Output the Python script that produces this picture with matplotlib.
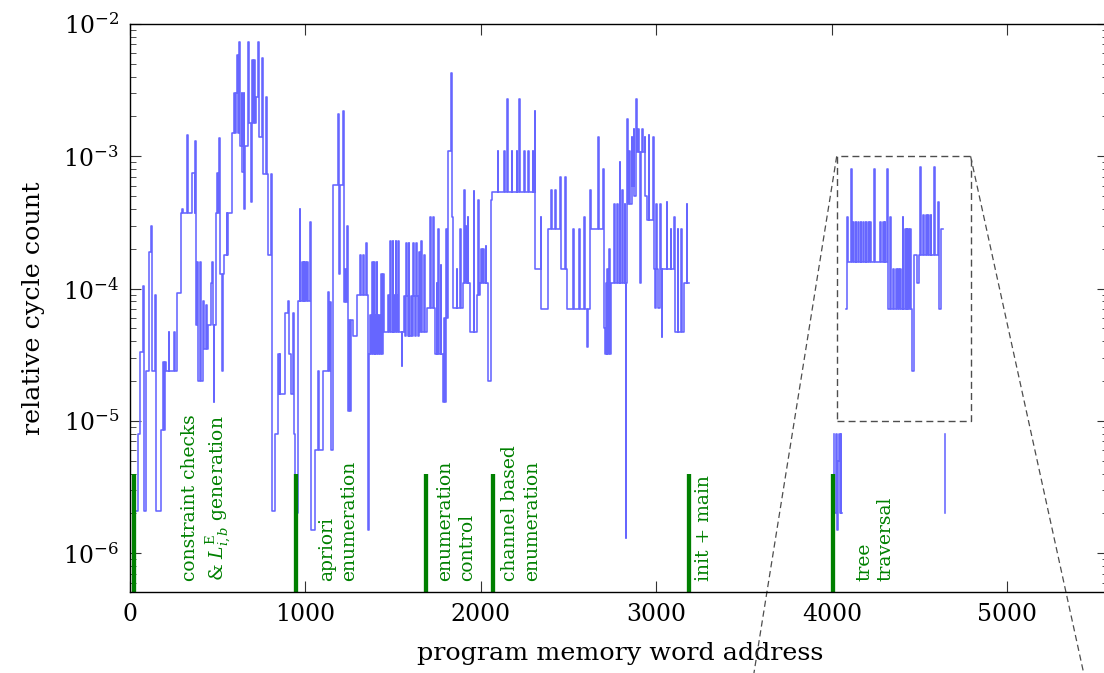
import numpy as np
import matplotlib
matplotlib.use("Agg")
import matplotlib.pyplot as plt
from matplotlib.patches import Rectangle

plt.rcParams['font.family'] = ['DejaVu Serif']
plt.rcParams['mathtext.fontset'] = 'dejavuserif'

# (word address, relative cycle count) step points
constraint_steps = [
    (36, 2.1e-6), (44, 8e-6), (58, 3.3e-5), (72, 1.05e-4), (78, 2.1e-6), (90, 2.4e-5),
    (110, 1.9e-4), (118, 3e-4), (124, 2.4e-5), (144, 9e-5), (150, 2.1e-6), (178, 8.6e-6),
    (186, 2.8e-5), (192, 8.6e-6), (198, 2.8e-5), (207, 2.4e-5), (220, 4.7e-5), (224, 2.4e-5),
    (252, 4.7e-5), (256, 2.4e-5), (270, 9.3e-5), (292, 3.7e-4), (298, 4e-4), (302, 3.7e-4),
    (325, 1.45e-3), (329, 3.7e-4), (355, 7.5e-4), (368, 3.7e-4), (372, 1.3e-3), (376, 5.3e-5),
    (384, 1.6e-4), (388, 2e-5), (400, 1.6e-4), (404, 2e-5), (416, 8e-5), (420, 3.5e-5),
    (432, 7.5e-5), (436, 3.5e-5), (444, 5.3e-5), (460, 1.1e-4), (466, 1.6e-4), (472, 5.3e-5),
    (476, 1.4e-5), (480, 5.3e-5), (490, 3.7e-4), (494, 7.5e-4), (500, 3.7e-4), (510, 1.37e-3),
    (514, 1.3e-4), (522, 2.4e-5), (530, 1.3e-4), (535, 1.8e-4), (550, 3.7e-4), (554, 1.8e-4),
    (558, 3.7e-4), (581, 1.5e-3), (592, 3e-3), (596, 1.5e-3), (604, 3e-3), (611, 5.8e-3),
    (616, 1.5e-3), (622, 7.3e-3), (626, 1.2e-3), (636, 3e-3), (640, 7.6e-4), (648, 3e-3),
    (652, 4e-4), (658, 1.2e-3), (672, 7.3e-3), (676, 1.8e-3), (688, 4.5e-4), (694, 5.3e-3),
    (700, 1.8e-3), (706, 5.3e-3), (712, 1.8e-3), (720, 2.8e-3), (729, 7.3e-3), (733, 1.4e-3),
    (755, 5.5e-3), (760, 7.3e-4), (777, 2.8e-3), (781, 7.3e-4), (784, 1.8e-4), (806, 7.3e-4),
    (810, 2.1e-6), (824, 8e-6), (843, 3.2e-5), (848, 1.6e-5), (853, 3.2e-5), (857, 1.6e-5),
    (881, 6.6e-5), (900, 8e-5), (906, 3.2e-5), (919, 1.6e-5), (929, 6.5e-5), (934, 8e-6),
    (938, 2e-6), (957, 8e-5), (967, 4e-4), (971, 8e-5), (980, 1.6e-4), (984, 8e-5),
    (990, 1.6e-4), (994, 8e-5), (1000, 1.6e-4), (1004, 8e-5), (1010, 1.6e-4), (1016, 8e-5),
    (1023, 3.2e-4), (1029, 1.5e-6), (1052, 6e-6), (1071, 2.4e-5), (1075, 6e-6),
]
apriori_steps = [
    (1100, 2.4e-5), (1128, 9.5e-5), (1134, 2.4e-5), (1140, 7.9e-5), (1144, 6e-6), (1155, 6.1e-4),
    (1187, 2.1e-3), (1192, 1.3e-4), (1198, 6.1e-4), (1212, 2.2e-3), (1218, 7.9e-5), (1224, 1.4e-4),
    (1230, 7.9e-5), (1238, 3e-4), (1242, 1.2e-5), (1248, 5.8e-5), (1254, 1.2e-5), (1262, 5.8e-5),
    (1270, 4.4e-5), (1292, 9e-5), (1310, 1.8e-4), (1314, 9e-5), (1328, 1.8e-4), (1332, 9e-5),
    (1345, 2.2e-4), (1350, 9e-5), (1356, 1.5e-6), (1362, 3.2e-5), (1370, 6.3e-5), (1374, 3.2e-5),
    (1378, 1.6e-4), (1382, 6.3e-5), (1386, 3.2e-5), (1390, 1.6e-4), (1394, 3.2e-5), (1398, 6.3e-5),
    (1402, 3.2e-5), (1406, 1.6e-4), (1410, 6.3e-5), (1414, 3.2e-5), (1420, 6.3e-5), (1424, 3.2e-5),
    (1430, 1.3e-4), (1434, 3.2e-5), (1443, 1.3e-4), (1447, 4.7e-5), (1470, 9e-5), (1474, 4.7e-5),
    (1482, 2.3e-4), (1486, 9e-5), (1490, 4.7e-5), (1496, 2.3e-4), (1500, 4.7e-5), (1506, 9e-5),
    (1510, 4.7e-5), (1514, 2.3e-4), (1518, 9e-5), (1524, 4.7e-5), (1530, 2.3e-4), (1534, 4.7e-5),
    (1548, 2.6e-5), (1551, 4.7e-5), (1560, 8.8e-5), (1566, 4.4e-5), (1572, 2.2e-4), (1576, 8.8e-5),
    (1582, 4.4e-5), (1588, 2.2e-4), (1592, 4.4e-5), (1600, 8.8e-5), (1606, 4.4e-5), (1612, 2.2e-4),
    (1616, 8.8e-5), (1622, 4.4e-5), (1630, 2.2e-4), (1634, 8.8e-5), (1640, 4.4e-5), (1646, 1.9e-4),
    (1650, 4.7e-5), (1660, 2.3e-4), (1664, 4.7e-5), (1676, 1.8e-4), (1680, 4.7e-5),
]
control_steps = [
    (1690, 7.2e-5), (1710, 3.5e-4), (1714, 7.2e-5), (1726, 3.5e-4), (1730, 7.2e-5), (1738, 3.2e-5),
    (1747, 1.1e-4), (1751, 3.2e-5), (1757, 2.8e-4), (1761, 3.2e-5), (1770, 1.5e-4), (1774, 3.2e-5),
    (1785, 1.4e-5), (1790, 6e-5), (1794, 1.4e-5), (1800, 2.8e-4), (1804, 6e-5), (1814, 1.1e-3),
    (1832, 4.3e-3), (1836, 3.5e-4), (1842, 7.2e-5), (1862, 1.4e-4), (1866, 7.2e-5), (1880, 2.8e-4),
    (1884, 7.2e-5), (1899, 1.1e-4), (1904, 5.6e-4), (1908, 1.1e-4), (1914, 3e-4), (1918, 1.1e-4),
    (1924, 3.5e-4), (1928, 1.1e-4), (1937, 4.7e-5), (1958, 5.5e-4), (1962, 4.7e-5), (1975, 9e-5),
    (1982, 4.7e-4), (1986, 9e-5), (1994, 1.1e-4), (2000, 2e-4), (2004, 1.1e-4), (2014, 2e-4),
    (2018, 1.1e-4), (2026, 2.1e-4), (2030, 1.1e-4), (2040, 2e-5), (2058, 4.7e-4),
]
channel_steps = [
    (2064, 5.4e-4), (2095, 1.1e-3), (2099, 5.4e-4), (2131, 1.1e-3), (2135, 5.4e-4), (2146, 2.7e-3),
    (2156, 5.4e-4), (2175, 1.1e-3), (2179, 5.4e-4), (2203, 1.1e-3), (2207, 5.4e-4), (2218, 2.7e-3),
    (2222, 5.4e-4), (2245, 1.1e-3), (2249, 5.4e-4), (2270, 1.1e-3), (2274, 5.4e-4), (2294, 1.1e-3),
    (2298, 5.4e-4), (2306, 2.2e-3), (2310, 1.4e-4), (2340, 3.5e-4), (2344, 7e-5), (2384, 2.8e-4),
    (2398, 5.6e-4), (2402, 2.8e-4), (2424, 5.6e-4), (2428, 2.8e-4), (2450, 7e-4), (2454, 1.4e-4),
    (2480, 7e-4), (2484, 1.4e-4), (2488, 7e-5), (2526, 2.8e-4), (2530, 7e-5), (2560, 2.8e-4),
    (2564, 7e-5), (2586, 3.5e-4), (2590, 7e-5), (2602, 3.6e-5), (2608, 7e-5), (2621, 2.8e-4),
    (2624, 5.6e-4), (2628, 2.8e-4), (2668, 1.4e-3), (2672, 2.8e-4), (2696, 8e-4), (2700, 5e-5),
    (2708, 3.2e-5), (2712, 1.1e-4), (2716, 3.2e-5), (2720, 1.4e-4), (2724, 3.2e-5), (2730, 2e-4),
    (2734, 3.2e-5), (2740, 1.1e-4), (2760, 4.4e-4), (2764, 1.1e-4), (2776, 4.4e-4), (2780, 1.1e-4),
    (2790, 9e-4), (2794, 1.1e-4), (2806, 5.6e-4), (2810, 1.1e-4), (2818, 4.4e-4), (2822, 1.1e-4),
    (2826, 1.3e-6), (2829, 1.1e-4), (2834, 1.9e-3), (2838, 4.4e-4), (2846, 1.1e-3), (2850, 4.4e-4),
    (2858, 1.4e-3), (2862, 6e-4), (2870, 1.6e-3), (2874, 5e-4), (2883, 2.7e-3), (2887, 1.07e-3),
    (2896, 1.6e-3), (2900, 1.07e-3), (2906, 1.1e-4), (2910, 1.07e-3), (2920, 1.6e-3), (2924, 1.07e-3),
    (2932, 1.4e-3), (2936, 5e-4), (2944, 3.3e-4), (2955, 1.45e-3), (2960, 3.3e-4), (2980, 1.4e-3),
    (2984, 1.4e-4), (2990, 7.2e-5), (3000, 4.4e-4), (3004, 1.4e-4), (3010, 7.2e-5), (3020, 4.4e-4),
    (3024, 1.4e-4), (3030, 4.3e-5), (3034, 1.4e-4), (3058, 4.5e-4), (3062, 1.4e-4), (3080, 2.8e-4),
    (3084, 1.4e-4), (3100, 3.5e-4), (3104, 4.7e-5), (3120, 2.8e-4), (3124, 4.7e-5), (3140, 2.8e-4),
    (3144, 4.7e-5), (3158, 1.1e-4), (3172, 4.4e-4), (3176, 1.1e-4), (3187, 1.1e-4),
]
tree_low_steps = [
    (4010, 8e-6), (4014, 2e-6), (4022, 8e-6), (4026, 2e-6), (4030, 1.5e-6), (4034, 5e-6),
    (4038, 8e-6), (4046, 2e-6), (4050, 8e-6), (4054, 2e-6), (4056, 2e-6),
]
tree_steps = [
    (4080, 7e-5), (4084, 3.5e-4), (4090, 1.6e-4), (4110, 8e-4), (4116, 1.6e-4),
    (4122, 3.2e-4), (4125, 1.6e-4), (4135, 3.2e-4), (4138, 1.6e-4), (4150, 3.2e-4), (4153, 1.6e-4),
    (4164, 3.2e-4), (4167, 1.6e-4), (4179, 3.2e-4), (4182, 1.6e-4), (4192, 3.2e-4), (4195, 1.6e-4),
    (4207, 3.2e-4), (4210, 1.6e-4), (4217, 3.2e-4), (4220, 1.6e-4), (4242, 8e-4), (4248, 1.6e-4),
    (4274, 3.2e-4), (4277, 1.6e-4), (4293, 3.2e-4), (4296, 1.6e-4), (4302, 3.2e-4), (4305, 1.6e-4),
    (4316, 8e-4), (4320, 7e-5), (4330, 3.5e-4), (4334, 7e-5), (4350, 1.4e-4), (4353, 7e-5),
    (4365, 1.4e-4), (4368, 7e-5), (4378, 1.4e-4), (4381, 7e-5), (4388, 1.4e-4), (4391, 7e-5),
    (4402, 3.5e-4), (4405, 7e-5), (4416, 2.8e-4), (4420, 7e-5), (4426, 2.8e-4), (4430, 7e-5),
    (4435, 2.8e-4), (4439, 7e-5), (4445, 2.8e-4), (4449, 7e-5), (4456, 2.4e-5), (4468, 1.8e-4),
    (4487, 1.1e-4), (4494, 1.8e-4), (4500, 8.3e-4), (4505, 4.5e-4), (4510, 1.8e-4), (4521, 3.6e-4),
    (4525, 1.8e-4), (4536, 3.6e-4), (4540, 1.8e-4), (4549, 3.6e-4), (4553, 1.8e-4), (4563, 3.6e-4),
    (4567, 1.8e-4), (4580, 8.3e-4), (4585, 1.8e-4), (4604, 4.5e-4), (4608, 7e-5), (4624, 2.8e-4),
    (4631, 2.8e-4),
]
tree_tail_steps = [(4646, 8e-6), (4646, 2e-6)]

# section boundaries and labels
section_starts = [22, 947, 1689, 2067, 3184, 4007]
section_label_x = [440, 1185, 1857, 2228, 3271, 4245]
section_labels = [
    "constraint checks\n& $L^{\\mathrm{E}}_{i,b}$ generation",
    "apriori\nenumeration",
    "enumeration\ncontrol",
    "channel based\nenumeration",
    "init + main",
    "tree\ntraversal",
]
bar_top = 4e-6
label_bottom = 6.2e-7

# zoom box (tree traversal region) and where its guide lines leave the figure
zoom_x = (4027, 4790)
zoom_y = (1e-5, 1e-3)
guide_end_x = (3544, 5450)
guide_end_y = 1e-7

BLUE = '#6666ff'
GREEN = '#008000'


def join(*segments):
    xs, ys = [], []
    for seg in segments:
        if xs:
            xs.append(np.nan)
            ys.append(np.nan)
        for a, v in seg:
            xs.append(a)
            ys.append(v)
    return np.array(xs, dtype=float), np.array(ys, dtype=float)


main_x, main_y = join(constraint_steps + apriori_steps + control_steps + channel_steps,
                      tree_low_steps, tree_steps, tree_tail_steps)

fig = plt.figure(figsize=(11.04, 6.73), dpi=100)
ax = fig.add_axes([130 / 1104, 1 - 592 / 673, 978 / 1104, 568 / 673])

ax.plot(main_x, main_y, drawstyle='steps-post', color=BLUE, lw=1.15)

for x in section_starts:
    ax.plot([x, x], [1e-8, bar_top], color=GREEN, lw=3.1, solid_capstyle='butt')

for x, s in zip(section_label_x, section_labels):
    ax.text(x, label_bottom, s, rotation=90, ha='center', va='bottom',
            multialignment='left', color=GREEN, fontsize=13.5, linespacing=1.25)

ax.add_patch(Rectangle((zoom_x[0], zoom_y[0]), zoom_x[1] - zoom_x[0], zoom_y[1] - zoom_y[0],
                       fill=False, ls=(0, (5, 3)), lw=1.0, ec='0.3'))
ax.plot([zoom_x[0], guide_end_x[0]], [zoom_y[1], guide_end_y], ls=(0, (5, 3)),
        lw=0.9, color='0.3', clip_on=False)
ax.plot([zoom_x[1], guide_end_x[1]], [zoom_y[1], guide_end_y], ls=(0, (5, 3)),
        lw=0.9, color='0.3', clip_on=False)

ax.set_yscale('log')
ax.set_xlim(0, 5573)
ax.set_ylim(5.1e-7, 1e-2)
ax.set_xticks([0, 1000, 2000, 3000, 4000, 5000])
ax.set_yticks([1e-6, 1e-5, 1e-4, 1e-3, 1e-2])
ax.set_yticklabels(['$10^{-6}$', '$10^{-5}$', '$10^{-4}$', '$10^{-3}$', '$10^{-2}$'])
ax.tick_params(which='both', direction='in', top=True, right=True, color='0.2',
               labelsize=17)
ax.tick_params(which='major', length=8, width=0.8, pad=8)
ax.tick_params(which='minor', length=4.5, width=0.6)
for sp in ax.spines.values():
    sp.set_linewidth(1.0)

ax.set_xlabel('program memory word address', fontsize=18.3)
ax.set_ylabel('relative cycle count', fontsize=18.3)
ax.xaxis.set_label_coords(0.501, -0.088)
ax.yaxis.set_label_coords(-0.087, 0.5)

fig.savefig('out.png', dpi=100)
